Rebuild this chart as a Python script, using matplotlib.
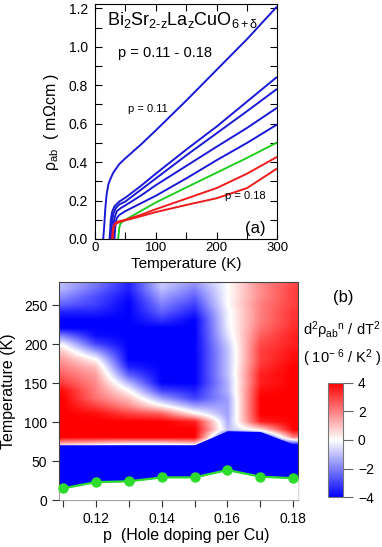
import numpy as np
import matplotlib
matplotlib.use("Agg")
import matplotlib.pyplot as plt

plt.rcParams['font.family'] = ['Liberation Sans', 'DejaVu Sans']
plt.rcParams['mathtext.fontset'] = 'custom'
plt.rcParams['mathtext.rm'] = 'Liberation Sans'
plt.rcParams['mathtext.it'] = 'Liberation Sans'
plt.rcParams['mathtext.bf'] = 'Liberation Sans:bold'

# ---------------- panel (a): resistivity curves ----------------
T_011 = [13.5, 15, 17, 19, 22, 25, 30, 40, 50, 75, 100, 150, 200, 250, 298]
R_011 = [0, 0.06, 0.16, 0.23, 0.285, 0.31, 0.345, 0.39, 0.42, 0.49, 0.565, 0.72, 0.88, 1.04, 1.205]
T_012 = [24, 25, 26, 28, 32, 40, 50, 75, 100, 150, 200, 250, 298]
R_012 = [0, 0.05, 0.10, 0.14, 0.17, 0.195, 0.215, 0.275, 0.34, 0.465, 0.585, 0.715, 0.84]
T_013 = [26, 27, 28, 30, 34, 40, 50, 75, 100, 150, 200, 250, 298]
R_013 = [0, 0.05, 0.09, 0.13, 0.16, 0.18, 0.195, 0.255, 0.315, 0.435, 0.55, 0.665, 0.778]
T_014 = [29, 30, 31, 33, 36, 42, 50, 75, 100, 150, 200, 250, 298]
R_014 = [0, 0.05, 0.09, 0.12, 0.145, 0.16, 0.175, 0.225, 0.28, 0.38, 0.48, 0.578, 0.68]
T_015 = [32, 33, 34, 36, 40, 45, 50, 75, 100, 150, 200, 250, 298]
R_015 = [0, 0.05, 0.085, 0.11, 0.125, 0.135, 0.145, 0.185, 0.225, 0.315, 0.41, 0.50, 0.593]
T_016 = [38, 39, 40, 42, 45, 50, 75, 100, 150, 200, 250, 298]
R_016 = [0, 0.03, 0.06, 0.08, 0.09, 0.10, 0.145, 0.19, 0.268, 0.345, 0.422, 0.50]
T_017 = [29, 30, 31, 33, 36, 42, 50, 75, 100, 150, 200, 250, 298]
R_017 = [0, 0.04, 0.065, 0.08, 0.088, 0.094, 0.10, 0.125, 0.155, 0.21, 0.265, 0.34, 0.425]
T_018 = [28, 29, 30, 32, 35, 40, 50, 75, 100, 150, 200, 250, 298]
R_018 = [0, 0.04, 0.06, 0.072, 0.08, 0.088, 0.097, 0.118, 0.14, 0.177, 0.212, 0.265, 0.364]

curves = [
    (T_011, R_011, 'blue'), (T_012, R_012, 'blue'), (T_013, R_013, 'blue'),
    (T_014, R_014, 'blue'), (T_015, R_015, 'blue'), (T_016, R_016, 'green'),
    (T_017, R_017, 'red'), (T_018, R_018, 'red'),
]
line_colors = {'blue': '#1a1ad6', 'green': '#22cc22', 'red': '#ee1c1c'}

# ---------------- panel (b): d2rho/dT2 map ----------------
p_values = [0.11, 0.12, 0.13, 0.14, 0.15, 0.16, 0.17, 0.18]
T_rows = [280, 270, 260, 250, 240, 230, 220, 210, 200, 190, 180, 170, 160,
          150, 140, 130, 120, 110, 100, 90, 80, 70]
d2rho = [
    [-1.0, -2.0, -3.5, -0.8, -1.5, 0.0, 1.8, 2.8],   # 280
    [-1.2, -2.3, -3.5, -1.0, -2.0, 0.0, 1.8, 3.0],   # 270
    [-1.8, -2.8, -3.8, -1.5, -2.5, 0.0, 1.8, 3.0],   # 260
    [-2.5, -3.0, -4.0, -2.0, -3.0, 0.0, 2.0, 3.0],   # 250
    [-3.5, -3.5, -4.0, -2.5, -3.5, -0.2, 2.0, 3.2],  # 240
    [-4.0, -4.0, -4.0, -3.2, -4.0, -0.2, 2.0, 3.2],  # 230
    [-4.0, -4.0, -4.0, -4.0, -4.0, -0.3, 2.2, 3.3],  # 220
    [-2.0, -3.8, -4.0, -4.0, -4.0, -0.5, 2.5, 3.5],  # 210
    [-0.3, -3.0, -4.0, -4.0, -4.0, -0.8, 2.8, 3.5],  # 200
    [0.8, -1.5, -4.0, -4.0, -4.0, -1.0, 3.0, 3.7],   # 190
    [1.5, 0.0, -4.0, -4.0, -4.0, -1.0, 3.0, 3.8],    # 180
    [2.0, 1.0, -3.5, -4.0, -4.0, -1.0, 3.2, 4.0],    # 170
    [2.5, 1.5, -2.5, -4.0, -4.0, -1.0, 3.5, 4.0],    # 160
    [3.0, 1.8, -1.2, -4.0, -4.0, -1.2, 3.5, 4.0],    # 150
    [3.8, 2.0, 0.0, -3.0, -3.5, -1.2, 3.8, 4.0],     # 140
    [4.0, 2.2, 1.0, -1.5, -3.0, -1.5, 4.0, 4.0],     # 130
    [4.0, 3.0, 1.8, 0.2, -1.5, -1.5, 4.0, 4.0],      # 120
    [4.0, 3.8, 3.0, 2.5, 0.3, -1.5, 4.0, 4.0],       # 110
    [4.0, 4.0, 4.0, 4.0, 3.5, -1.3, 3.5, 4.0],       # 100
    [4.0, 4.0, 4.0, 4.0, 4.0, -1.0, 0.5, 4.0],       # 90
    [4.0, 4.0, 4.0, 4.0, 4.0, -4.0, -4.0, 2.0],      # 80
    [0.5, 0.0, -0.5, -0.5, 0.0, -4.0, -4.0, -4.0],   # 70
]
Tc = [15, 23, 24, 29, 29, 38.5, 30, 28]
T_blue_top = [71, 71, 71, 71, 71, 89, 88, 72]

fig = plt.figure(figsize=(3.82, 5.47), dpi=100)

# ---- panel (a)
ax1 = fig.add_axes([0.2487, 0.5631, 0.4777, 0.4287])
for T, R, c in curves:
    ax1.plot(T, R, color=line_colors[c], lw=1.4, solid_joinstyle='round')
ax1.set_xlim(0, 300)
ax1.set_ylim(0, 1.22)
ax1.set_xticks([0, 100, 200, 300])
ax1.set_xticks([50, 150, 250], minor=True)
ax1.set_yticks(np.arange(0, 1.21, 0.2))
ax1.set_yticks(np.arange(0.1, 1.21, 0.2), minor=True)
ax1.set_yticklabels([f"{v:.1f}" for v in np.arange(0, 1.21, 0.2)])
ax1.tick_params(which='both', direction='in', top=True, right=True, labelsize=10)
ax1.tick_params(axis='y', pad=5)
ax1.tick_params(axis='x', pad=2, labelsize=9.5)
ax1.tick_params(which='major', length=5, width=0.8)
ax1.tick_params(which='minor', length=5, width=0.8)
ax1.set_xlabel('Temperature (K)', fontsize=11)
ax1.set_ylabel('ρ$_{ab}$  ( mΩcm )', fontsize=11.5)
ax1.xaxis.set_label_coords(0.5, -0.075)
ax1.yaxis.set_label_coords(-0.185, 0.5)
ax1.text(0.066, 0.934, 'Bi$_2$Sr$_{2\\text{-}z}$La$_z$CuO$_{6+δ}$', transform=ax1.transAxes,
         fontsize=13, ha='left', va='center')
ax1.text(0.126, 0.793, 'p = 0.11 - 0.18', transform=ax1.transAxes, fontsize=10.5,
         ha='left', va='center')
ax1.text(0.181, 0.554, 'p = 0.11', transform=ax1.transAxes, fontsize=8, ha='left', va='center')
ax1.text(0.712, 0.183, 'p = 0.18', transform=ax1.transAxes, fontsize=8, ha='left', va='center')
ax1.text(0.822, 0.045, '(a)', transform=ax1.transAxes, fontsize=12, ha='left', va='center')

# ---- panel (b)
ax2 = fig.add_axes([0.1545, 0.0859, 0.6264, 0.3985])
Z = np.array(d2rho)[::-1]
Tr = np.array(T_rows)[::-1]
pv = np.array(p_values)
dp = pv[1] - pv[0]
dT = Tr[1] - Tr[0]
im = ax2.imshow(Z, cmap='bwr', vmin=-4, vmax=4, origin='lower', aspect='auto',
                interpolation='bilinear', interpolation_stage='data',
                extent=[pv[0] - dp / 2, pv[-1] + dp / 2, Tr[0] - dT / 2, Tr[-1] + dT / 2],
                zorder=1)
xl = (0.10875, 0.1816)
px = np.concatenate([[xl[0]], pv, [xl[1]]])
tc_ext = np.concatenate([[Tc[0]], Tc, [Tc[-1]]])
top_ext = np.concatenate([[T_blue_top[0]], T_blue_top, [T_blue_top[-1]]])
ax2.fill_between(px, 0, top_ext, color='#0000ff', lw=0, zorder=2)
ax2.fill_between(px, 0, tc_ext, color='white', lw=0, zorder=3)
ax2.plot(p_values, Tc, color='#2edc2e', lw=1.6, marker='o', ms=6.5, mec='#2edc2e',
         mfc='#2edc2e', zorder=4, clip_on=False)
ax2.set_xlim(*xl)
ax2.set_ylim(0, 280)
ax2.set_xticks([0.12, 0.14, 0.16, 0.18])
ax2.set_xticks([0.11, 0.13, 0.15, 0.17], minor=True)
ax2.set_yticks([0, 50, 100, 150, 200, 250])
ax2.tick_params(which='both', direction='out', length=5, width=0.8, labelsize=10,
                color='#333333')
ax2.set_xlabel('p  (Hole doping per Cu)', fontsize=11.5)
ax2.set_ylabel('Temperature (K)', fontsize=11.5)
ax2.xaxis.set_label_coords(0.53, -0.13)
ax2.yaxis.set_label_coords(-0.18, 0.5)
for s in ax2.spines.values():
    s.set_color('#444444')

# colorbar
cax = fig.add_axes([0.8594, 0.0909, 0.0377, 0.2095])
cb = fig.colorbar(im, cax=cax, ticks=[-4, -2, 0, 2, 4])
cb.outline.set_edgecolor('#777777')
cb.outline.set_linewidth(0.8)
cax.tick_params(direction='out', length=7, width=0.8, color='#666666', labelsize=10, pad=4)

fig.text(0.898, 0.457, '(b)', fontsize=12, ha='center', va='center')
fig.text(0.895, 0.397, 'd$^2$ρ$_{ab}$$^{n}$ / dT$^2$', fontsize=10.5, ha='center', va='center')
fig.text(0.895, 0.3455, '( 10$^{-\\ 6}$ / K$^2$ )', fontsize=10.5, ha='center', va='center')

fig.savefig('out.png', dpi=100)
